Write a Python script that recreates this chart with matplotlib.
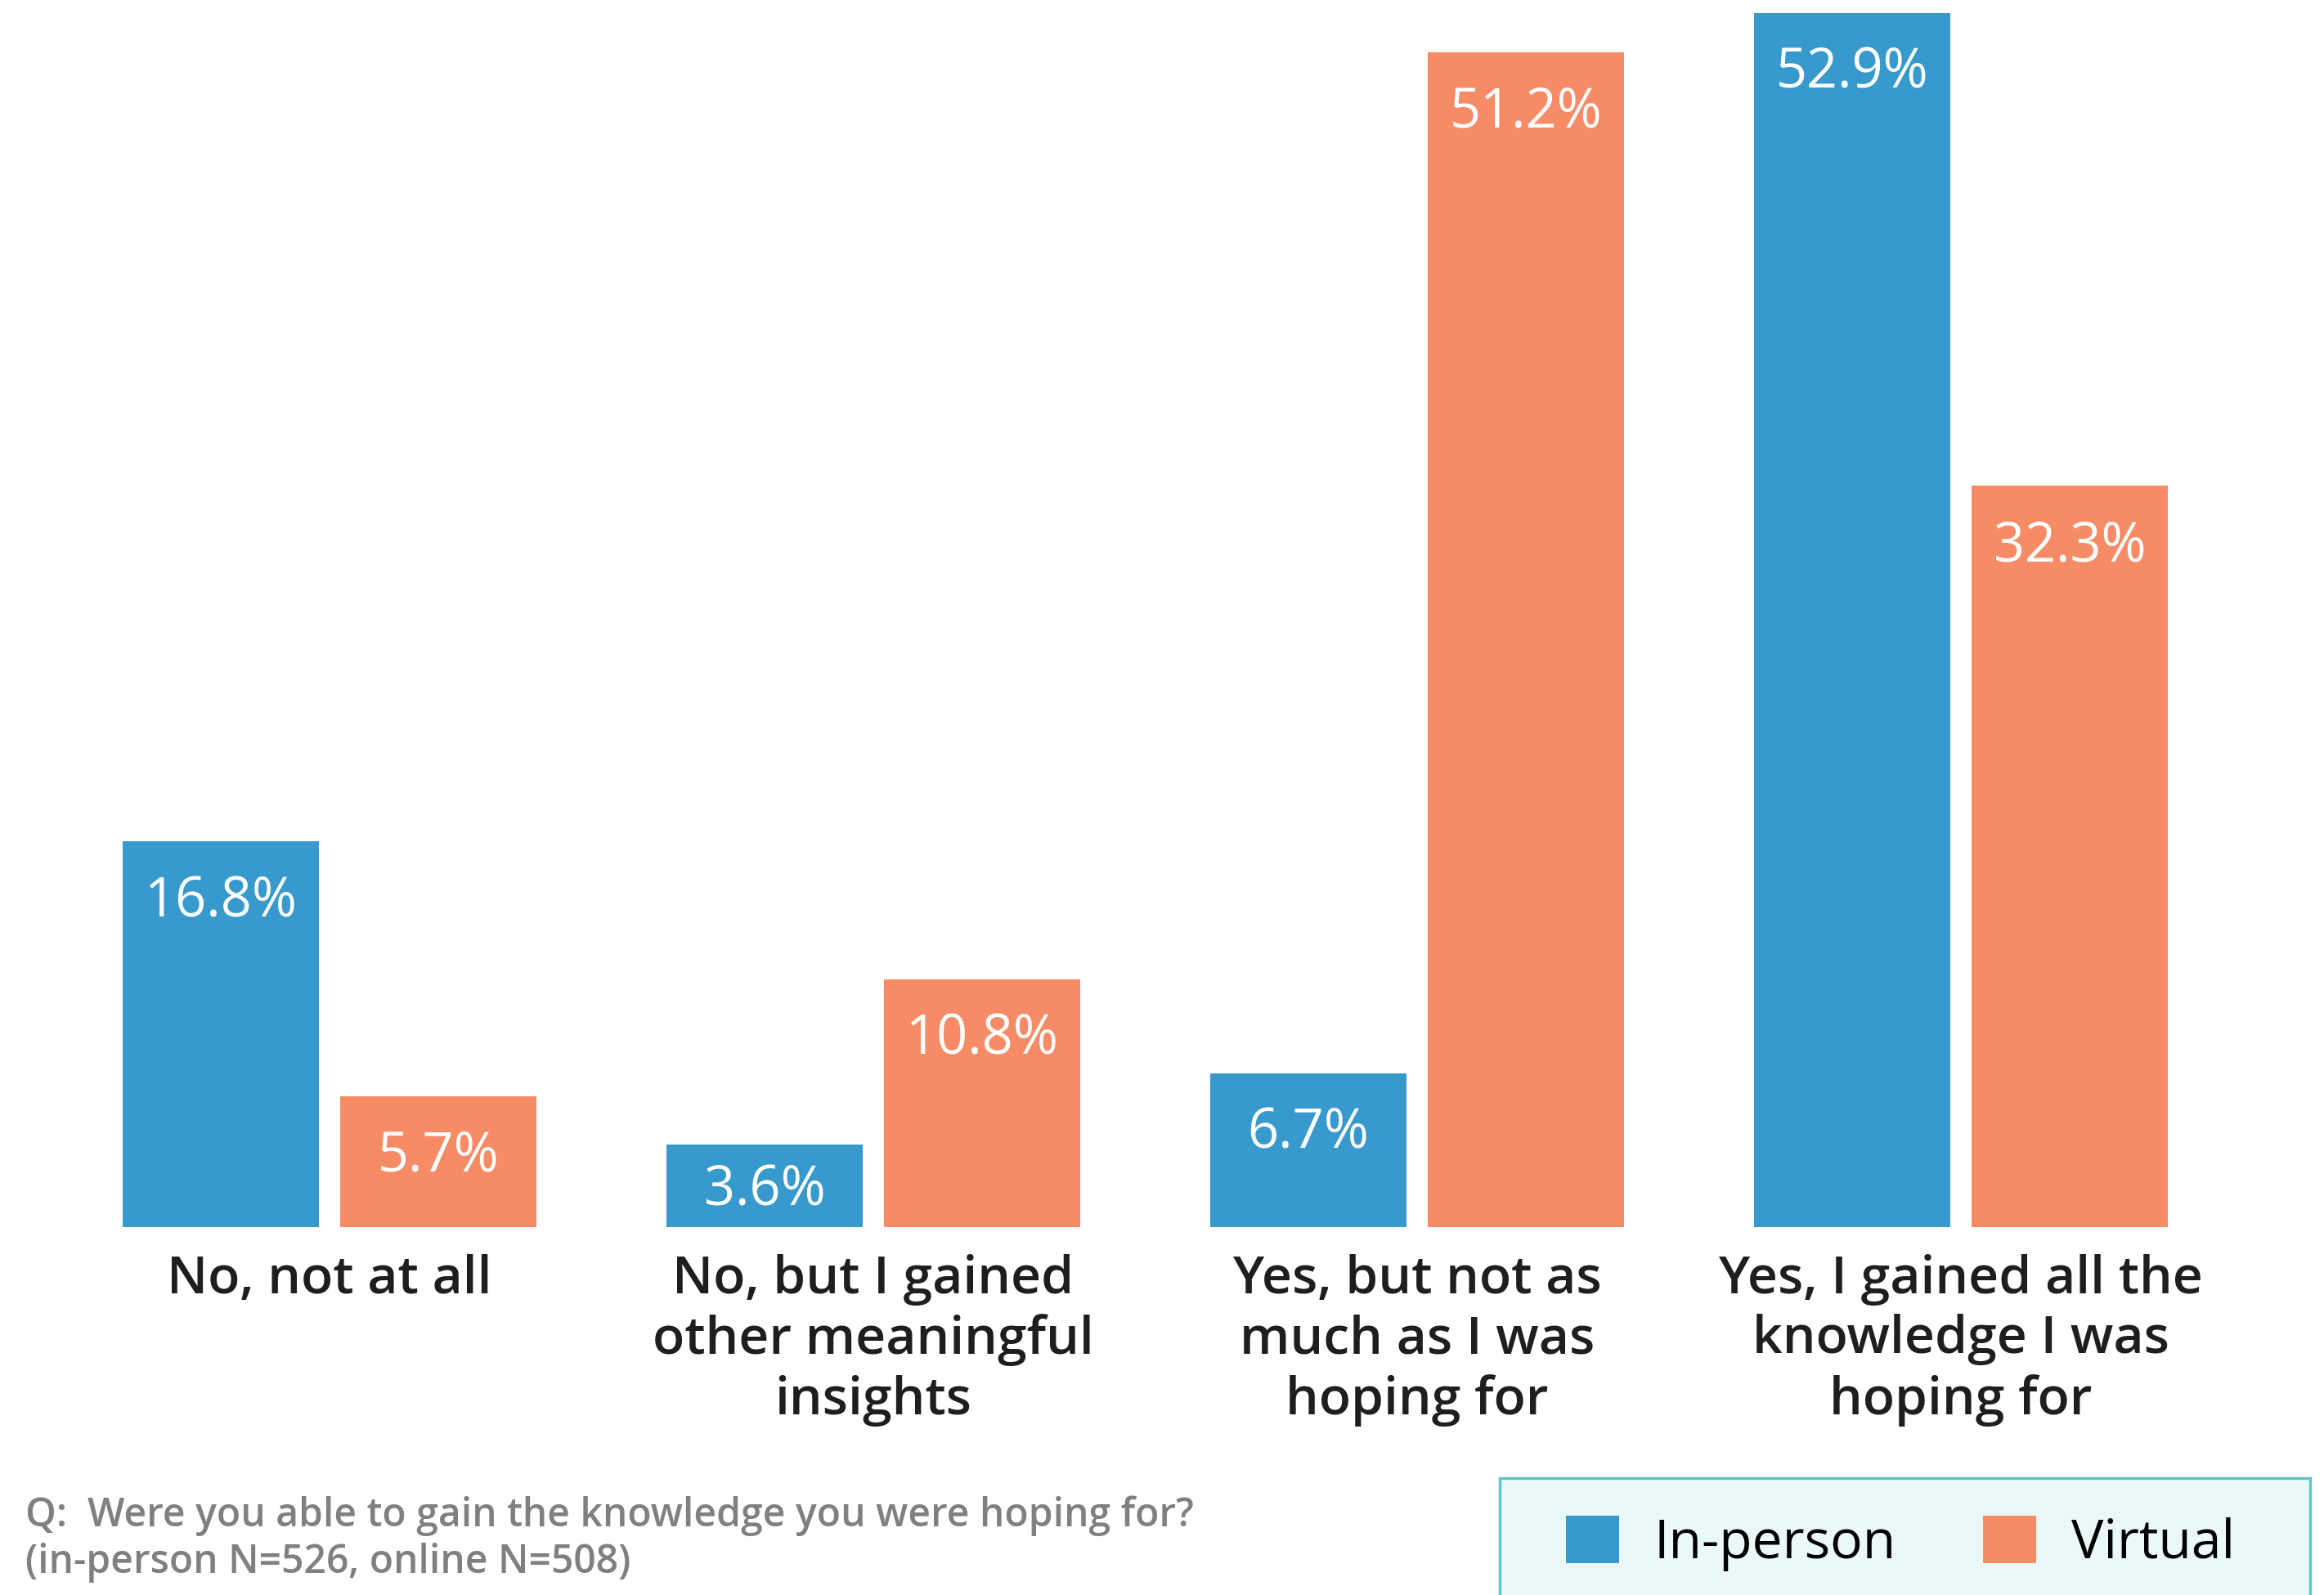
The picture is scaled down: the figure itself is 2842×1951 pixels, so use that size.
import matplotlib
matplotlib.use("Agg")
import matplotlib.pyplot as plt
from matplotlib.patches import Rectangle
import numpy as np

plt.rcParams['font.family'] = ['Open Sans', 'DejaVu Sans']

# Survey answers and shares (percent)
categories = [
    "No, not at all",
    "No, but I gained\nother meaningful\ninsights",
    "Yes, but not as\nmuch as I was\nhoping for",
    "Yes, I gained all the\nknowledge I was\nhoping for",
]
in_person = [16.8, 3.6, 6.7, 52.9]
virtual = [5.7, 10.8, 51.2, 32.3]
series_names = ["In-person", "Virtual"]

BLUE = "#3799CC"
ORANGE = "#F68B66"
W, H = 2842, 1951
PX_PER_PCT = 28.07

fig = plt.figure(figsize=(W / 100, H / 100), dpi=100)
ax = fig.add_axes([0, 450 / H, 1, 1501 / H])

x = np.arange(len(categories))
bw = 0.36
off = 0.2
b1 = ax.bar(x - off, in_person, bw, color=BLUE, label=series_names[0])
b2 = ax.bar(x + off, virtual, bw, color=ORANGE, label=series_names[1])

# value labels near the top of each bar, centred in the bar when it is short
lab_fs = 48
for bars, vals in ((b1, in_person), (b2, virtual)):
    for rect, v in zip(bars, vals):
        yc = max(v - 68 / PX_PER_PCT, v / 2)
        ax.annotate("{:.1f}%".format(v),
                    (rect.get_x() + rect.get_width() / 2, yc),
                    xytext=(0, -lab_fs * 0.714 / 2), textcoords="offset points",
                    ha="center", va="baseline", color="white",
                    fontsize=lab_fs, fontweight="medium")

ax.set_xlim(-403 / 665, (W - 403) / 665)
ax.set_ylim(0, 1501 / PX_PER_PCT)
ax.set_xticks(x)
ax.set_xticklabels(categories, fontsize=46.3, fontweight="semibold",
                   color="#1E1E1E", linespacing=1.22)
ax.tick_params(axis="x", length=0, pad=23.5)
ax.set_yticks([])
for s in ax.spines.values():
    s.set_visible(False)

# footnote
fig.text(31 / W, 1 - 1867 / H, "Q:  Were you able to gain the knowledge you were hoping for?",
         fontsize=34.6, fontweight="semibold", color="#808080", va="baseline")
fig.text(31 / W, 1 - 1924 / H, "(in-person N=526, online N=508)",
         fontsize=34.6, fontweight="semibold", color="#808080", va="baseline")

# legend box
fig.patches.append(Rectangle((1834 / W, -0.05), (2825 - 1834) / W, 0.05 + 1 - 1808 / H,
                             transform=fig.transFigure, facecolor="#EBF8F8",
                             edgecolor="#5CC6CC", linewidth=2.5, clip_on=False))
fig.legend(handles=[b1, b2], loc="center left",
           bbox_to_anchor=(1915 / W, 1 - 1888 / H), ncol=2, frameon=False,
           fontsize=47.5, handlelength=0.985, handleheight=0.985,
           handletextpad=0.64, columnspacing=1.62, borderpad=0, borderaxespad=0)

fig.savefig("out.png", dpi=100)
